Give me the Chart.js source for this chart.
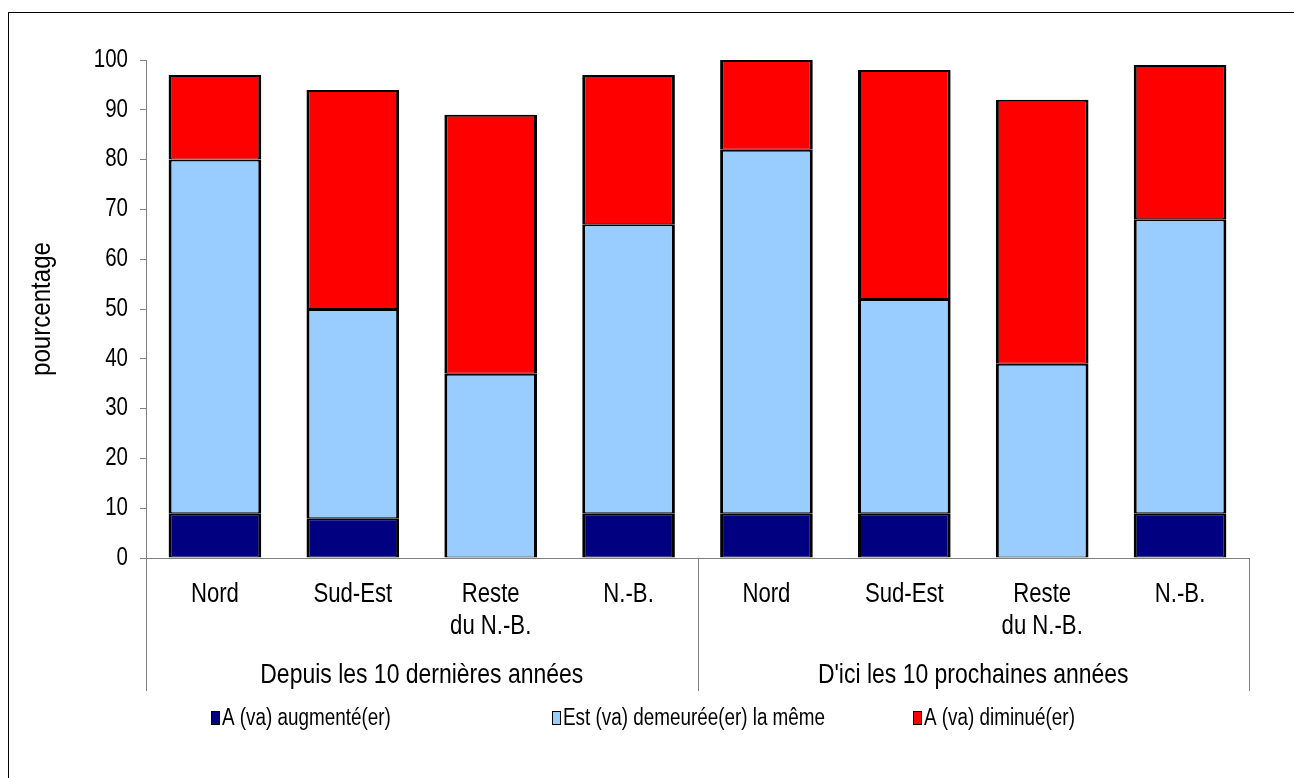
<!DOCTYPE html>
<html>
<head>
<meta charset="utf-8">
<script src="https://cdn.jsdelivr.net/npm/chart.js@4/dist/chart.umd.min.js"></script>
<style>
  html, body { margin: 0; padding: 0; background: #fff; }
  #wrap { width: 1294px; height: 778px; }
</style>
</head>
<body>
<div id="wrap"><canvas id="c" width="1294" height="778"></canvas></div>
<script>
// Regions, per period
const categories = [
  ["Nord"], ["Sud-Est"], ["Reste", "du N.-B."], ["N.-B."],
  ["Nord"], ["Sud-Est"], ["Reste", "du N.-B."], ["N.-B."]
];
const groups = ["Depuis les 10 dernières années", "D'ici les 10 prochaines années"];
const groupSize = 4;

// Share of respondents (%)
const augmente = [9, 8, 0, 9, 9, 9, 0, 9];
const demeure  = [71, 42, 37, 58, 73, 43, 39, 59];
const diminue  = [17, 44, 52, 30, 18, 46, 53, 31];

const seriesNames = ["A (va) augmenté(er)", "Est (va) demeurée(er) la même", "A (va) diminué(er)"];
const seriesColors = ["#000080", "#99CCFF", "#FF0000"];

const yTicks = [0, 10, 20, 30, 40, 50, 60, 70, 80, 90, 100];
const yTitle = "pourcentage";

const FONT = "'Liberation Sans', Arial, sans-serif";
const NARROW = 0.82;          // horizontal squeeze giving a narrow sans face
const AXIS_GREY = "#808080";

Chart.defaults.color = "#000";
Chart.defaults.font.family = FONT;

// Draws condensed text: x/y is the anchor, align is left/center/right
function narrowText(ctx, text, x, y, size, align, squeeze) {
  ctx.save();
  ctx.font = size + "px " + FONT;
  ctx.textAlign = align;
  ctx.textBaseline = "middle";
  ctx.translate(x, y);
  ctx.scale(squeeze, 1);
  ctx.fillText(text, 0, 0);
  ctx.restore();
}

// Axis labels, frame, y title, period labels, dividers and legend
const decorations = {
  id: "decorations",
  afterDraw(chart) {
    const ctx = chart.ctx;
    const xs = chart.scales.x;
    const ys = chart.scales.y;
    const area = chart.chartArea;
    ctx.save();
    ctx.fillStyle = "#000";

    // outer frame
    ctx.strokeStyle = "#000";
    ctx.lineWidth = 1;
    ctx.strokeRect(8.5, 12.5, 1400, 900);

    // y tick labels
    yTicks.forEach(v => {
      narrowText(ctx, String(v), 128, ys.getPixelForValue(v), 25, "right", NARROW);
    });

    // category labels
    categories.forEach((lines, i) => {
      const cx = xs.getPixelForValue(i);
      lines.forEach((line, k) => {
        narrowText(ctx, line, cx, 595 + k * 32, 27, "center", NARROW);
      });
    });

    // y-axis title
    ctx.save();
    ctx.translate(42, (area.top + area.bottom) / 2);
    ctx.rotate(-Math.PI / 2);
    narrowText(ctx, yTitle, 0, 0, 28, "center", 0.86);
    ctx.restore();

    // period dividers and labels
    const step = (xs.right - xs.left) / categories.length;
    const bottomY = 691;
    ctx.strokeStyle = AXIS_GREY;
    ctx.lineWidth = 1;
    for (let g = 0; g <= groups.length; g++) {
      const px = Math.round(xs.left + g * groupSize * step) + 0.5;
      ctx.beginPath();
      ctx.moveTo(px, area.bottom);
      ctx.lineTo(px, bottomY);
      ctx.stroke();
    }
    groups.forEach((label, g) => {
      const cx = xs.left + (g * groupSize + groupSize / 2) * step;
      narrowText(ctx, label, cx, 675, 28, "center", NARROW);
    });

    // legend
    const legendX = [211, 552, 913];
    const legendY = 718;
    seriesNames.forEach((name, i) => {
      ctx.fillStyle = seriesColors[i];
      ctx.fillRect(legendX[i], legendY - 7, 9, 14);
      ctx.strokeStyle = "#000";
      ctx.strokeRect(legendX[i] + 0.5, legendY - 6.5, 8, 13);
      ctx.fillStyle = "#000";
      narrowText(ctx, name, legendX[i] + 11, legendY + 1, 23, "left", NARROW);
    });

    ctx.restore();
  }
};

const dataSets = [augmente, demeure, diminue].map((values, i) => ({
  label: seriesNames[i],
  data: values,
  backgroundColor: seriesColors[i],
  borderColor: "#000",
  borderWidth: { left: 3, right: 3, top: 2, bottom: 1 },
  borderSkipped: false,
  barPercentage: 0.672,
  categoryPercentage: 1
}));

new Chart(document.getElementById("c"), {
  type: "bar",
  data: { labels: categories, datasets: dataSets },
  options: {
    responsive: false,
    animation: false,
    events: [],
    layout: { padding: { top: 60, right: 45, left: 0, bottom: 0 } },
    plugins: {
      legend: { display: false },
      tooltip: { enabled: false },
      title: { display: false }
    },
    scales: {
      x: {
        stacked: true,
        grid: { display: false, drawTicks: false },
        border: { display: true, color: AXIS_GREY, width: 1 },
        ticks: { display: false, autoSkip: false },
        afterFit(scale) { scale.height = 220; }
      },
      y: {
        stacked: true,
        min: 0,
        max: 100,
        afterBuildTicks(scale) { scale.ticks = yTicks.map(v => ({ value: v })); },
        grid: { drawOnChartArea: false, drawTicks: true, tickLength: 6, color: AXIS_GREY },
        border: { display: true, color: AXIS_GREY, width: 1 },
        ticks: { display: false },
        afterFit(scale) { scale.width = 146; }
      }
    }
  },
  plugins: [decorations]
});
</script>
</body>
</html>
